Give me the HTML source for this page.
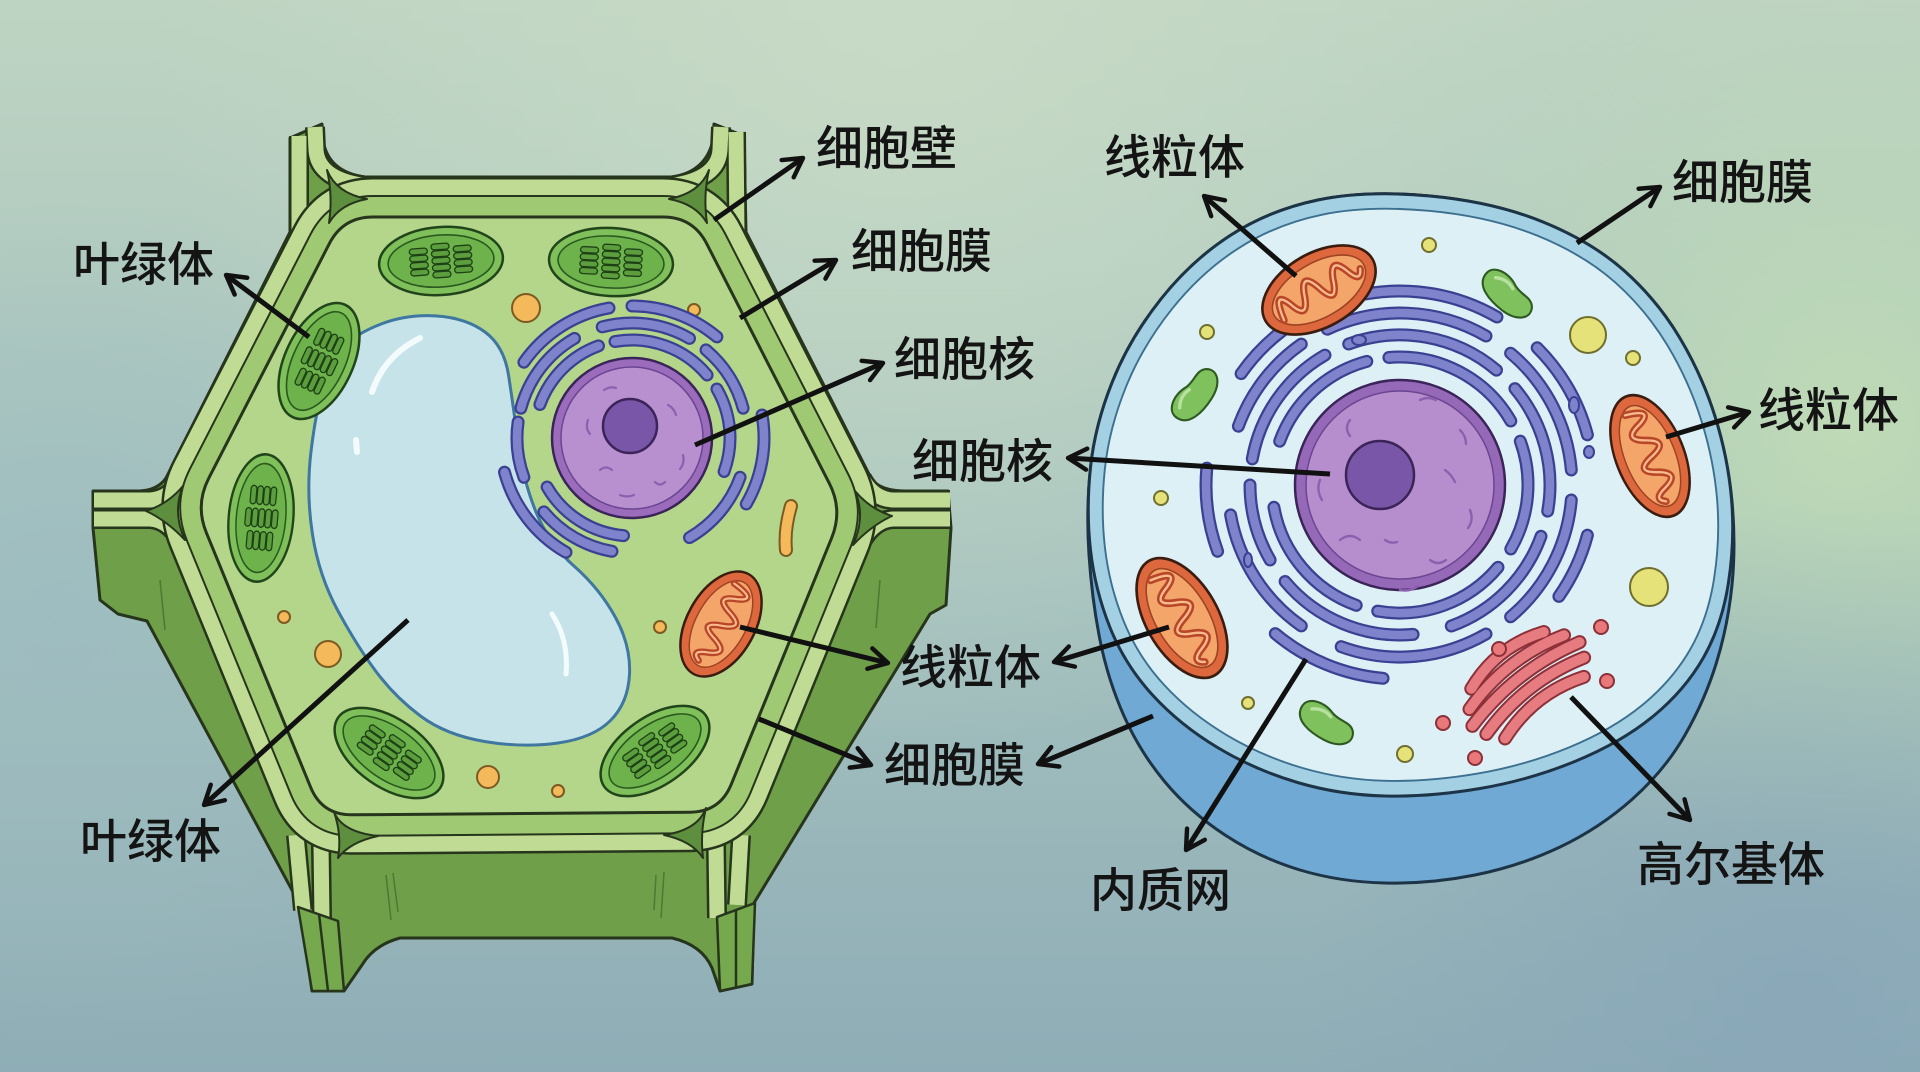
<!DOCTYPE html>
<html><head><meta charset="utf-8">
<style>
html,body{margin:0;padding:0;width:1920px;height:1072px;overflow:hidden;background:#a9c4c0;}
svg{display:block}
.lb{font-family:"Liberation Sans","Noto Sans CJK SC","WenQuanYi Zen Hei",sans-serif;font-size:47px;font-weight:500;fill:#141414;}
</style></head>
<body>
<svg width="1920" height="1072" viewBox="0 0 1920 1072">
<defs>
<linearGradient id="bg" x1="0" y1="0" x2="0" y2="1">
<stop offset="0" stop-color="#bed4c2"/><stop offset="0.5" stop-color="#a7c3bf"/><stop offset="1" stop-color="#8eadb6"/>
</linearGradient>
<radialGradient id="bgr" cx="1850" cy="430" r="480" gradientUnits="userSpaceOnUse">
<stop offset="0" stop-color="#bfdbb5" stop-opacity="0.95"/><stop offset="1" stop-color="#bfdbb5" stop-opacity="0"/></radialGradient>
<radialGradient id="bgt" cx="900" cy="0" r="750" gradientUnits="userSpaceOnUse">
<stop offset="0" stop-color="#c8dbc6" stop-opacity="0.9"/><stop offset="1" stop-color="#c8dbc6" stop-opacity="0"/></radialGradient>
<radialGradient id="bgl" cx="60" cy="620" r="420" gradientUnits="userSpaceOnUse">
<stop offset="0" stop-color="#9cbcc0" stop-opacity="0.8"/><stop offset="1" stop-color="#9cbcc0" stop-opacity="0"/></radialGradient>
<radialGradient id="bgbr" cx="1800" cy="1000" r="500" gradientUnits="userSpaceOnUse">
<stop offset="0" stop-color="#88a6b8" stop-opacity="0.8"/><stop offset="1" stop-color="#88a6b8" stop-opacity="0"/></radialGradient>

<marker id="ah" viewBox="0 0 12 12" refX="10" refY="6" markerWidth="28" markerHeight="28" markerUnits="userSpaceOnUse" orient="auto">
<path d="M2,1.5 L10,6 L2,10.5" fill="none" stroke="#111" stroke-width="1.9" stroke-linecap="round" stroke-linejoin="round"/>
</marker>

<path id="cyto" d="M373,217 L663,217 Q693,217 706.7,243.7 L829.3,483.3 Q843,510 831.7,537.8 L731.3,784.2 Q720,812 690,812.2 L352,814.8 Q322,815 310.6,787.2 L206.4,532.8 Q195,505 208.7,478.3 L329.3,243.7 Q343,217 373,217 Z"/>

<path id="topface" d="M1318,200 Q1366,190 1430,196 Q1494,202 1543,222 Q1592,242 1624.5,271 Q1657,300 1679.5,337.5 Q1702,375 1715,416.5 Q1728,458 1731.5,499 Q1735,540 1728.5,582.5 Q1722,625 1703.5,657.5 Q1685,690 1653.5,716 Q1622,742 1576,761 Q1530,780 1480,788.5 Q1430,797 1385,796 Q1340,795 1297.5,782.5 Q1255,770 1217.5,747.5 Q1180,725 1152.5,695 Q1125,665 1110,627.5 Q1095,590 1090.5,550 Q1086,510 1090.5,467.5 Q1095,425 1112.5,381.5 Q1130,338 1161,299 Q1192,260 1231,235 Q1270,210 1318,200 Z"/>

<path id="erP" d="M539.9,404.5 A98,98 0 0 1 598.5,345.9 M615,341.5 A98,98 0 0 1 707.1,375 M623.5,535.6 A98,98 0 0 1 547.1,487 M716.9,389 A98,98 0 0 1 724.1,471.5
M520.9,408.2 A115,115 0 0 1 574.5,338.4 M602.2,326.9 A115,115 0 0 1 689.5,338.4 M706,349.9 A115,115 0 0 1 743.1,408.2 M612,551.3 A115,115 0 0 1 543.9,511.9 M523.9,477.3 A115,115 0 0 1 518.1,422 M740.1,477.3 A115,115 0 0 1 689.5,537.6
M523.9,362.2 A132,132 0 0 1 609,308 M632,306 A132,132 0 0 1 716.9,336.9 M566,552.3 A132,132 0 0 1 504.5,472.2 M762,415 A132,132 0 0 1 746.3,504"/>

<path id="erA" d="M1279.7,441.2 A128,128 0 0 1 1366.8,361.4 M1388.9,357.5 A128,128 0 0 1 1510.8,421 M1520.3,441.2 A128,128 0 0 1 1510.8,549 M1498,567.3 A128,128 0 0 1 1377.7,611.1 M1356.2,605.3 A128,128 0 0 1 1273.9,507.3
M1252.3,458.9 A150,150 0 0 1 1325,355.1 M1348.7,344 A150,150 0 0 1 1496.5,370.1 M1514.9,388.6 A150,150 0 0 1 1547.7,511.1 M1541,536.3 A150,150 0 0 1 1451.3,626 M1413.1,634.4 A150,150 0 0 1 1285.1,581.5 M1270.1,560 A150,150 0 0 1 1250,485
M1238.4,426.2 A172,172 0 0 1 1301.3,344.1 M1327.3,329.2 A172,172 0 0 1 1486,336 M1510.6,353.2 A172,172 0 0 1 1571.3,470 M1571.3,500 A172,172 0 0 1 1510.6,616.8 M1486,634 A172,172 0 0 1 1341.2,646.7 M1301.3,625.9 A172,172 0 0 1 1230.6,514.9
M1241.1,373.6 A194,194 0 0 1 1333.6,302.7 M1366.3,293.9 A194,194 0 0 1 1497,317 M1537.2,347.8 A194,194 0 0 1 1587.4,434.8 M1587.4,535.2 A194,194 0 0 1 1558.9,596.4 M1383.1,678.3 A194,194 0 0 1 1275.3,633.6 M1217.6,551.3 A194,194 0 0 1 1206.8,468.1"/>

<g id="chl">
<ellipse rx="62" ry="34" fill="#7fc05a" stroke="#21441a" stroke-width="2.5"/>
<ellipse rx="53" ry="26" fill="#6db24b" stroke="#2b5a20" stroke-width="1.6"/>
<g fill="#5c9e3e" stroke="#1d4115" stroke-width="1.3">
<rect x="-31" y="-14" width="18" height="6" rx="3"/><rect x="-31" y="-7" width="18" height="6" rx="3"/><rect x="-31" y="0" width="18" height="6" rx="3"/><rect x="-31" y="7" width="18" height="6" rx="3"/>
<rect x="-9" y="-17.5" width="18" height="6" rx="3"/><rect x="-9" y="-10.5" width="18" height="6" rx="3"/><rect x="-9" y="-3.5" width="18" height="6" rx="3"/><rect x="-9" y="3.5" width="18" height="6" rx="3"/><rect x="-9" y="10.5" width="18" height="6" rx="3"/>
<rect x="13" y="-14" width="18" height="6" rx="3"/><rect x="13" y="-7" width="18" height="6" rx="3"/><rect x="13" y="0" width="18" height="6" rx="3"/><rect x="13" y="7" width="18" height="6" rx="3"/>
</g>
</g>

<g id="mito">
<ellipse rx="60" ry="34" fill="#de683d" stroke="#3a1c10" stroke-width="2.5"/>
<ellipse rx="50" ry="25" fill="#f4a56a" stroke="#9c4424" stroke-width="1.5"/>
<path d="M-44,8 Q-40,-22 -31,-2 Q-23,20 -15,-2 Q-7,-24 1,-2 Q9,22 17,-2 Q25,-22 33,-2 Q39,14 45,2" stroke="#b8472a" stroke-width="7" stroke-linecap="round" stroke-linejoin="round" fill="none"/>
<path d="M-44,8 Q-40,-22 -31,-2 Q-23,20 -15,-2 Q-7,-24 1,-2 Q9,22 17,-2 Q25,-22 33,-2 Q39,14 45,2" stroke="#f8bb8c" stroke-width="2.2" stroke-linecap="round" stroke-linejoin="round" fill="none"/>
</g>

<g id="bean">
<path d="M-34,-4 C-34,-20 -12,-22 2,-14 C14,-8 26,-14 33,-4 C40,8 28,20 6,19 C-14,18 -34,12 -34,-4 Z" fill="#7fc15c" stroke="#2e5a22" stroke-width="2.5"/>
<path d="M-22,-8 Q-10,-15 2,-9" stroke="#b7e1a0" stroke-width="4" fill="none" stroke-linecap="round"/>
</g>
</defs>

<!-- background -->
<rect width="1920" height="1072" fill="url(#bg)"/>
<rect width="1920" height="1072" fill="url(#bgt)"/>
<rect width="1920" height="1072" fill="url(#bgr)"/>
<rect width="1920" height="1072" fill="url(#bgl)"/>
<rect width="1920" height="1072" fill="url(#bgbr)"/>

<!-- ============ PLANT CELL ============ -->
<path d="M290,138 L322,124 L323,140 Q328,172 365,177 L672,177 Q706,172 713,140 L714,124 L744,136 L746,232 L872,480 Q882,491 905,491 L948,491 L951,528 L946,605 L930,614 L754,903 L752,984 L720,991 L712,968 Q702,945 672,938 L400,938 Q374,945 362,965 L344,991 L312,991 L300,905 L147,621 L118,614 L100,600 L93,528 L93,491 L140,491 Q158,490 166,478 L290,232 Z" fill="#6f9f49" stroke="#26351c" stroke-width="3" stroke-linejoin="round"/>
<g stroke="#3f6a2a" stroke-width="1.5" fill="none" opacity="0.7">
<path d="M386,875 L391,920"/><path d="M393,873 L398,912"/><path d="M664,872 L661,918"/><path d="M656,875 L654,910"/>
<path d="M160,580 L165,630"/><path d="M880,580 L876,628"/>
</g>

<!-- stubs -->
<g fill="none" stroke="#26351c" stroke-width="20">
<path d="M299,136 L299,235"/><path d="M315,127 L316,150 Q318,180 368,186"/>
<path d="M721,127 L720,150 Q718,180 668,186"/><path d="M736,132 L737,235"/>
<path d="M94,500 L150,500 Q170,499 182,478"/><path d="M94,519 L150,519 Q170,520 182,545"/>
<path d="M950,500 L893,500 Q873,499 862,478"/><path d="M950,519 L893,519 Q873,520 860,545"/>
<path d="M296,835 L303,910"/><path d="M321,845 L322,918"/>
<path d="M716,845 L717,918"/><path d="M741,835 L737,905"/>
</g>
<g fill="none" stroke="#c0dc94" stroke-width="15">
<path d="M299,136 L299,235"/><path d="M315,127 L316,150 Q318,180 368,186"/>
<path d="M721,127 L720,150 Q718,180 668,186"/><path d="M736,132 L737,235"/>
<path d="M94,500 L150,500 Q170,499 182,478"/><path d="M94,519 L150,519 Q170,520 182,545"/>
<path d="M950,500 L893,500 Q873,499 862,478"/><path d="M950,519 L893,519 Q873,520 860,545"/>
<path d="M296,835 L303,910"/><path d="M321,845 L322,918"/>
<path d="M716,845 L717,918"/><path d="M741,835 L737,905"/>
</g>
<!-- bottom stub front faces -->
<path d="M298,907 L338,921 L344,991 L312,991 Z" fill="#76a84e" stroke="#26351c" stroke-width="2.5" stroke-linejoin="round"/>
<path d="M319,914 L328,991" stroke="#26351c" stroke-width="2.5"/>
<path d="M717,917 L755,903 L752,984 L720,991 Z" fill="#76a84e" stroke="#26351c" stroke-width="2.5" stroke-linejoin="round"/>
<path d="M736,910 L736,988" stroke="#26351c" stroke-width="2.5"/>

<!-- ring -->
<use href="#cyto" fill="none" stroke="#26351c" stroke-width="80" stroke-linejoin="round"/>
<use href="#cyto" fill="none" stroke="#c0dc94" stroke-width="75" stroke-linejoin="round"/>
<use href="#cyto" fill="none" stroke="#26351c" stroke-width="44" stroke-linejoin="round"/>
<use href="#cyto" fill="none" stroke="#a0c974" stroke-width="40" stroke-linejoin="round"/>
<use href="#cyto" fill="#b3d68b" stroke="#26351c" stroke-width="3"/>

<!-- wedges -->
<g fill="#5e8f3e" stroke="#26351c" stroke-width="2" stroke-linejoin="round">
<path d="M327,170 Q336,193 367,199 Q340,204 329,223 Q333,196 327,170 Z"/>
<path d="M709,170 Q700,193 669,199 Q696,204 707,223 Q703,196 709,170 Z"/>
<path d="M146,511 Q168,504 183,486 Q172,512 185,540 Q166,520 146,511 Z"/>
<path d="M892,516 Q870,509 855,491 Q866,517 853,545 Q872,525 892,516 Z"/>
<path d="M334,812 Q342,832 378,836 Q350,842 338,858 Q342,835 334,812 Z"/>
<path d="M706,808 Q698,830 664,835 Q692,841 703,858 Q700,833 706,808 Z"/>
</g>

<!-- vacuole -->
<path d="M344.5,346 Q357,333 382.5,323.5 Q408,314 437,316 Q466,318 485,332 Q504,346 508.5,375 Q513,404 518,442 Q523,480 536,512 Q549,544 574.5,566.5 Q600,589 615.5,617.5 Q631,646 629.5,674.5 Q628,703 610.5,720.5 Q593,738 558,743 Q523,748 484.5,741.5 Q446,735 420.5,716 Q395,697 376,671.5 Q357,646 338,611 Q319,576 312.5,534.5 Q306,493 311,451.5 Q316,410 324,384.5 Q332,359 344.5,346 Z" fill="#c6e3ea" stroke="#3f77a0" stroke-width="3"/>
<path d="M372,392 Q384,356 420,338" stroke="#f4fbfd" stroke-width="6" fill="none" stroke-linecap="round"/>
<path d="M356,440 L357,452" stroke="#f4fbfd" stroke-width="6" fill="none" stroke-linecap="round"/>
<path d="M552,614 Q569,640 566,674" stroke="#f4fbfd" stroke-width="5" fill="none" stroke-linecap="round"/>

<!-- chloroplasts -->
<use href="#chl" transform="translate(441,261) rotate(-4)"/>
<use href="#chl" transform="translate(611,262) rotate(3)"/>
<use href="#chl" transform="translate(319,361) rotate(115)"/>
<use href="#chl" transform="translate(261,518) rotate(95) scale(1.03,0.95)"/>
<use href="#chl" transform="translate(389,753) rotate(35)"/>
<use href="#chl" transform="translate(655,751) rotate(-35)"/>

<!-- orange dots -->
<g fill="#f3b95a" stroke="#7c5a22" stroke-width="2">
<circle cx="526" cy="308" r="14"/><circle cx="694" cy="310" r="6"/><circle cx="284" cy="617" r="6"/>
<circle cx="328" cy="654" r="13"/><circle cx="488" cy="777" r="11"/><circle cx="558" cy="791" r="6"/><circle cx="660" cy="627" r="6"/>
</g>
<path d="M791,506 Q784,530 786,550" stroke="#7c5a22" stroke-width="14" stroke-linecap="round" fill="none"/>
<path d="M791,506 Q784,530 786,550" stroke="#f3b95a" stroke-width="10" stroke-linecap="round" fill="none"/>

<!-- plant ER + nucleus -->
<use href="#erP" fill="none" stroke="#3b4192" stroke-width="13" stroke-linecap="round"/>
<use href="#erP" fill="none" stroke="#7f83cb" stroke-width="8.5" stroke-linecap="round"/>
<circle cx="632" cy="438" r="80" fill="#9a6cbb" stroke="#3a2458" stroke-width="2.5"/>
<circle cx="632" cy="438" r="71" fill="#b890cf" stroke="#6a4690" stroke-width="1.5"/>
<g fill="none" stroke="#8c60ae" stroke-width="2.2" stroke-linecap="round">
<path d="M600,470 q6,-5 12,0"/><path d="M655,482 q5,5 10,0"/><path d="M588,420 q-3,8 2,14"/><path d="M668,405 q6,3 8,10"/><path d="M620,495 q7,3 14,0"/><path d="M683,455 q2,8 -3,14"/><path d="M604,390 q6,-4 12,-2"/>
</g>
<circle cx="630" cy="426" r="27" fill="#7a56a8" stroke="#3a2458" stroke-width="2.5"/>

<!-- plant mitochondrion -->
<use href="#mito" transform="translate(721,624) rotate(119) scale(0.95,1)"/>

<!-- ============ ANIMAL CELL ============ -->
<path d="M1318,200 Q1366,190 1430,196 Q1494,202 1543,222 Q1592,242 1624.5,271 Q1657,300 1679.5,337.5 Q1702,375 1715,416.5 Q1728,458 1732,501.5 Q1736,545 1732,585 Q1728,625 1716.5,662.5 Q1705,700 1685,735 Q1665,770 1632.5,799 Q1600,828 1560,847 Q1520,866 1475,875 Q1430,884 1385,883 Q1340,882 1300,870 Q1260,858 1225,835 Q1190,812 1165,782 Q1140,752 1124,716 Q1108,680 1100,640 Q1092,600 1089,555 Q1086,510 1090.5,467.5 Q1095,425 1112.5,381.5 Q1130,338 1161,299 Q1192,260 1231,235 Q1270,210 1318,200 Z" fill="#70a9d3" stroke="#1d3446" stroke-width="3"/>
<use href="#topface" fill="#a4d0e4" stroke="#1d3446" stroke-width="3"/>
<use href="#topface" transform="translate(1410 493) scale(0.955 0.95) translate(-1410 -493)" fill="#dcf0f6" stroke="#3d6f8f" stroke-width="2"/>

<!-- animal ER + nucleus -->
<use href="#erA" fill="none" stroke="#3b4192" stroke-width="13" stroke-linecap="round"/>
<use href="#erA" fill="none" stroke="#7f83cb" stroke-width="8.5" stroke-linecap="round"/>
<g fill="#7f83cb" stroke="#3b4192" stroke-width="2">
<ellipse cx="1359" cy="340" rx="7" ry="5"/><ellipse cx="1574" cy="405" rx="5" ry="8"/><ellipse cx="1248" cy="560" rx="4" ry="7"/><ellipse cx="1589" cy="452" rx="5" ry="6"/>
</g>
<circle cx="1400" cy="485" r="105" fill="#9568b8" stroke="#3a2458" stroke-width="2.5"/>
<circle cx="1400" cy="485" r="94" fill="#b68ecd" stroke="#6a4690" stroke-width="1.5"/>
<g fill="none" stroke="#8c60ae" stroke-width="2.4" stroke-linecap="round">
<path d="M1340,540 q10,-8 20,0"/><path d="M1430,560 q8,6 16,0"/><path d="M1460,430 q6,6 6,14"/><path d="M1350,420 q-6,8 0,16"/><path d="M1400,590 q10,2 18,-4"/><path d="M1470,510 q4,10 -2,18"/><path d="M1320,480 q-4,10 2,20"/><path d="M1420,400 q8,-4 16,0"/><path d="M1385,540 q6,4 12,2"/><path d="M1445,470 q6,4 10,12"/>
</g>
<circle cx="1380" cy="475" r="34" fill="#7a56a8" stroke="#3a2458" stroke-width="2.5"/>

<!-- animal mitochondria -->
<use href="#mito" transform="translate(1319,290) rotate(-30) scale(1.03,1.09)"/>
<use href="#mito" transform="translate(1650,456) rotate(68) scale(1.07,1)"/>
<use href="#mito" transform="translate(1182,618) rotate(60) scale(1.1,1.06)"/>

<!-- green vesicles -->
<use href="#bean" transform="translate(1507,294) rotate(35) scale(0.85)"/>
<use href="#bean" transform="translate(1195,395) rotate(-60) scale(0.85)"/>
<use href="#bean" transform="translate(1326,723) rotate(25) scale(0.85)"/>

<!-- yellow dots -->
<g fill="#e6e27a" stroke="#6f6e2c" stroke-width="2">
<circle cx="1429" cy="245" r="7"/><circle cx="1207" cy="332" r="7"/><circle cx="1588" cy="335" r="18"/><circle cx="1633" cy="358" r="7"/>
<circle cx="1161" cy="498" r="7"/><circle cx="1649" cy="587" r="19"/><circle cx="1248" cy="703" r="6"/><circle cx="1405" cy="754" r="8"/>
</g>

<!-- golgi -->
<g transform="translate(1526,684) rotate(-38)" fill="none" stroke-linecap="round">
<g stroke="#8e3038" stroke-width="14">
<path d="M-46,-30 Q0,-48 46,-30"/><path d="M-60,-15 Q0,-33 60,-15"/><path d="M-68,0 Q0,-18 68,0"/><path d="M-62,15 Q0,-3 62,15"/><path d="M-50,30 Q0,12 50,30"/>
</g>
<g stroke="#e77c80" stroke-width="10">
<path d="M-46,-30 Q0,-48 46,-30"/><path d="M-60,-15 Q0,-33 60,-15"/><path d="M-68,0 Q0,-18 68,0"/><path d="M-62,15 Q0,-3 62,15"/><path d="M-50,30 Q0,12 50,30"/>
</g>
</g>
<g fill="#e8787a" stroke="#8a3038" stroke-width="2">
<circle cx="1499" cy="649" r="7"/><circle cx="1601" cy="627" r="7"/><circle cx="1607" cy="681" r="7"/><circle cx="1443" cy="723" r="7"/><circle cx="1475" cy="758" r="7"/>
</g>

<!-- ============ ARROWS ============ -->
<g stroke="#111" stroke-width="5" fill="none" marker-end="url(#ah)">
<line x1="714" y1="220" x2="803" y2="158"/>
<line x1="740" y1="318" x2="836" y2="260"/>
<line x1="695" y1="445" x2="883" y2="363"/>
<line x1="309" y1="337" x2="226" y2="275"/>
<line x1="740" y1="627" x2="888" y2="663"/>
<line x1="759" y1="719" x2="871" y2="765"/>
<line x1="408" y1="620" x2="204" y2="805"/>
<line x1="1296" y1="276" x2="1204" y2="196"/>
<line x1="1577" y1="243" x2="1660" y2="187"/>
<line x1="1666" y1="437" x2="1749" y2="412"/>
<line x1="1330" y1="474" x2="1068" y2="458"/>
<line x1="1169" y1="627" x2="1054" y2="662"/>
<line x1="1153" y1="716" x2="1038" y2="764"/>
<line x1="1306" y1="659" x2="1186" y2="850"/>
<line x1="1571" y1="697" x2="1690" y2="820"/>
</g>

<!-- ============ LABELS ============ -->
<text class="lb" x="816" y="165">细胞壁</text>
<text class="lb" x="851" y="268">细胞膜</text>
<text class="lb" x="894" y="376">细胞核</text>
<text class="lb" x="73" y="281">叶绿体</text>
<text class="lb" x="900" y="684">线粒体</text>
<text class="lb" x="884" y="782">细胞膜</text>
<text class="lb" x="80" y="858">叶绿体</text>
<text class="lb" x="912" y="478">细胞核</text>
<text class="lb" x="1104" y="174">线粒体</text>
<text class="lb" x="1672" y="199">细胞膜</text>
<text class="lb" x="1758" y="427">线粒体</text>
<text class="lb" x="1090" y="907">内质网</text>
<text class="lb" x="1637" y="881">高尔基体</text>
</svg>
</body></html>
